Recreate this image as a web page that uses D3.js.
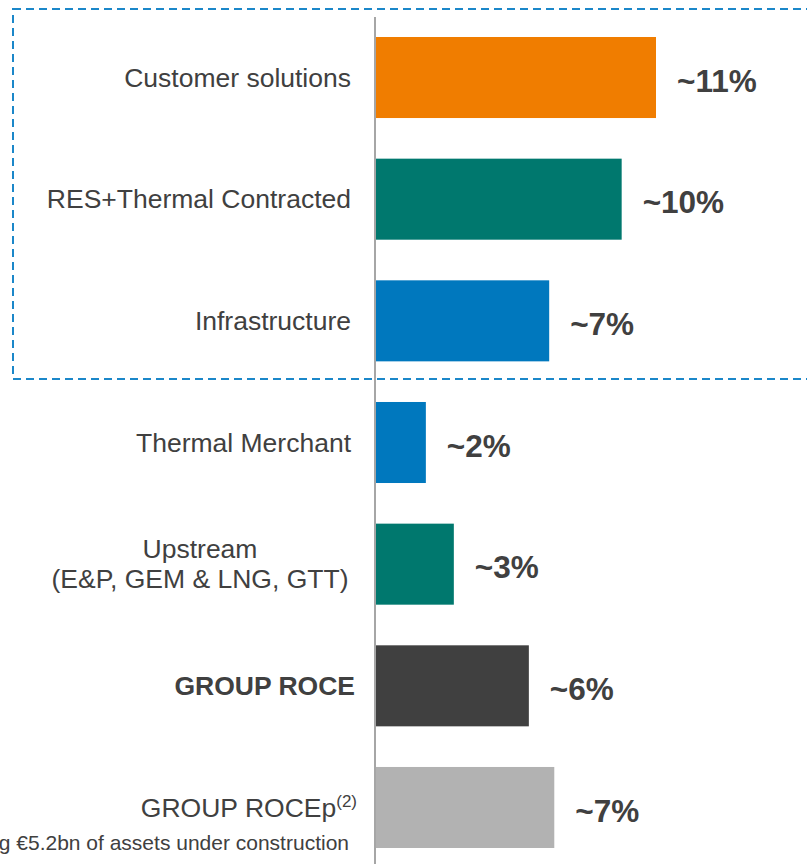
<!DOCTYPE html>
<html>
<head>
<meta charset="utf-8">
<script src="https://cdn.jsdelivr.net/npm/d3@7"></script>
<style>
  body { margin: 0; background: #fff; }
  svg { display: block; font-family: "Liberation Sans", Arial, sans-serif; }
</style>
</head>
<body>
<div id="chart"></div>
<script>
// ROCE by segment

const width = 807;
const height = 864;

const categories = [
  "Customer solutions",
  "RES+Thermal Contracted",
  "Infrastructure",
  "Thermal Merchant",
  "Upstream",
  "GROUP ROCE",
  "GROUP ROCEp"
];
const values = [11.05, 9.7, 6.85, 2.0, 3.1, 6.05, 7.05];
const valueLabels = ["~11%", "~10%", "~7%", "~2%", "~3%", "~6%", "~7%"];
const colors = ["#f07d00", "#00786e", "#0078be", "#0078be", "#00786e", "#404040", "#b2b2b2"];

const axisX = 375;

const svg = d3.select("#chart")
  .append("svg")
  .attr("width", width)
  .attr("height", height);

const x = d3.scaleLinear()
  .domain([0, 11.05])
  .range([axisX, 656]);

const y = d3.scaleBand()
  .domain(categories)
  .range([37, 848])
  .paddingInner(0.334)
  .paddingOuter(0);

// dashed box round the first three segments
svg.append("rect")
  .attr("x", 13)
  .attr("y", 9)
  .attr("width", width)
  .attr("height", 370)
  .attr("fill", "none")
  .attr("stroke", "#1b87c9")
  .attr("stroke-width", 2)
  .attr("stroke-dasharray", "8,5");

// bars
svg.selectAll("rect.bar")
  .data(categories)
  .enter()
  .append("rect")
  .attr("class", "bar")
  .attr("x", x(0))
  .attr("y", d => y(d))
  .attr("width", (d, i) => x(values[i]) - x(0))
  .attr("height", y.bandwidth())
  .attr("fill", (d, i) => colors[i]);

// vertical axis line
svg.append("line")
  .attr("x1", axisX)
  .attr("x2", axisX)
  .attr("y1", 17)
  .attr("y2", height)
  .attr("stroke", "#a6a6a6")
  .attr("stroke-width", 2);

// value labels
svg.selectAll("text.value")
  .data(categories)
  .enter()
  .append("text")
  .attr("class", "value")
  .attr("x", (d, i) => x(values[i]) + 21)
  .attr("y", d => y(d) + y.bandwidth() / 2 + 3)
  .attr("dy", "0.35em")
  .attr("font-size", 31.5)
  .attr("font-weight", "bold")
  .attr("fill", "#404040")
  .text((d, i) => valueLabels[i]);

// category labels
const labelX = 351;
const labels = svg.append("g")
  .attr("font-size", 26.5)
  .attr("fill", "#404040")
  .attr("text-anchor", "end");

categories.forEach((c, i) => {
  const cy = y(c) + y.bandwidth() / 2;
  if (c === "Upstream") {
    const t = labels.append("text")
      .attr("y", cy)
      .attr("text-anchor", "middle");
    t.append("tspan").attr("x", 200).attr("dy", "-0.22em").text("Upstream");
    t.append("tspan").attr("x", 200).attr("dy", "1.13em").text("(E&P, GEM & LNG, GTT)");
  } else if (c === "GROUP ROCE") {
    labels.append("text")
      .attr("x", labelX + 4)
      .attr("y", cy)
      .attr("dy", "0.35em")
      .attr("font-weight", "bold")
      .text(c);
  } else if (c === "GROUP ROCEp") {
    const t = labels.append("text")
      .attr("x", labelX + 6)
      .attr("y", cy)
      .attr("dy", "0.35em");
    t.append("tspan").text(c);
    t.append("tspan").attr("font-size", 17).attr("dy", "-0.6em").text("(2)");
  } else {
    labels.append("text")
      .attr("x", labelX)
      .attr("y", cy)
      .attr("dy", "0.35em")
      .text(c);
  }
});

// footnote, cut off at the left edge as in the original slide
svg.append("text")
  .attr("x", 349)
  .attr("y", 843)
  .attr("dy", "0.35em")
  .attr("text-anchor", "end")
  .attr("font-size", 21)
  .attr("fill", "#404040")
  .text("(2) Excluding €5.2bn of assets under construction");
</script>
</body>
</html>
